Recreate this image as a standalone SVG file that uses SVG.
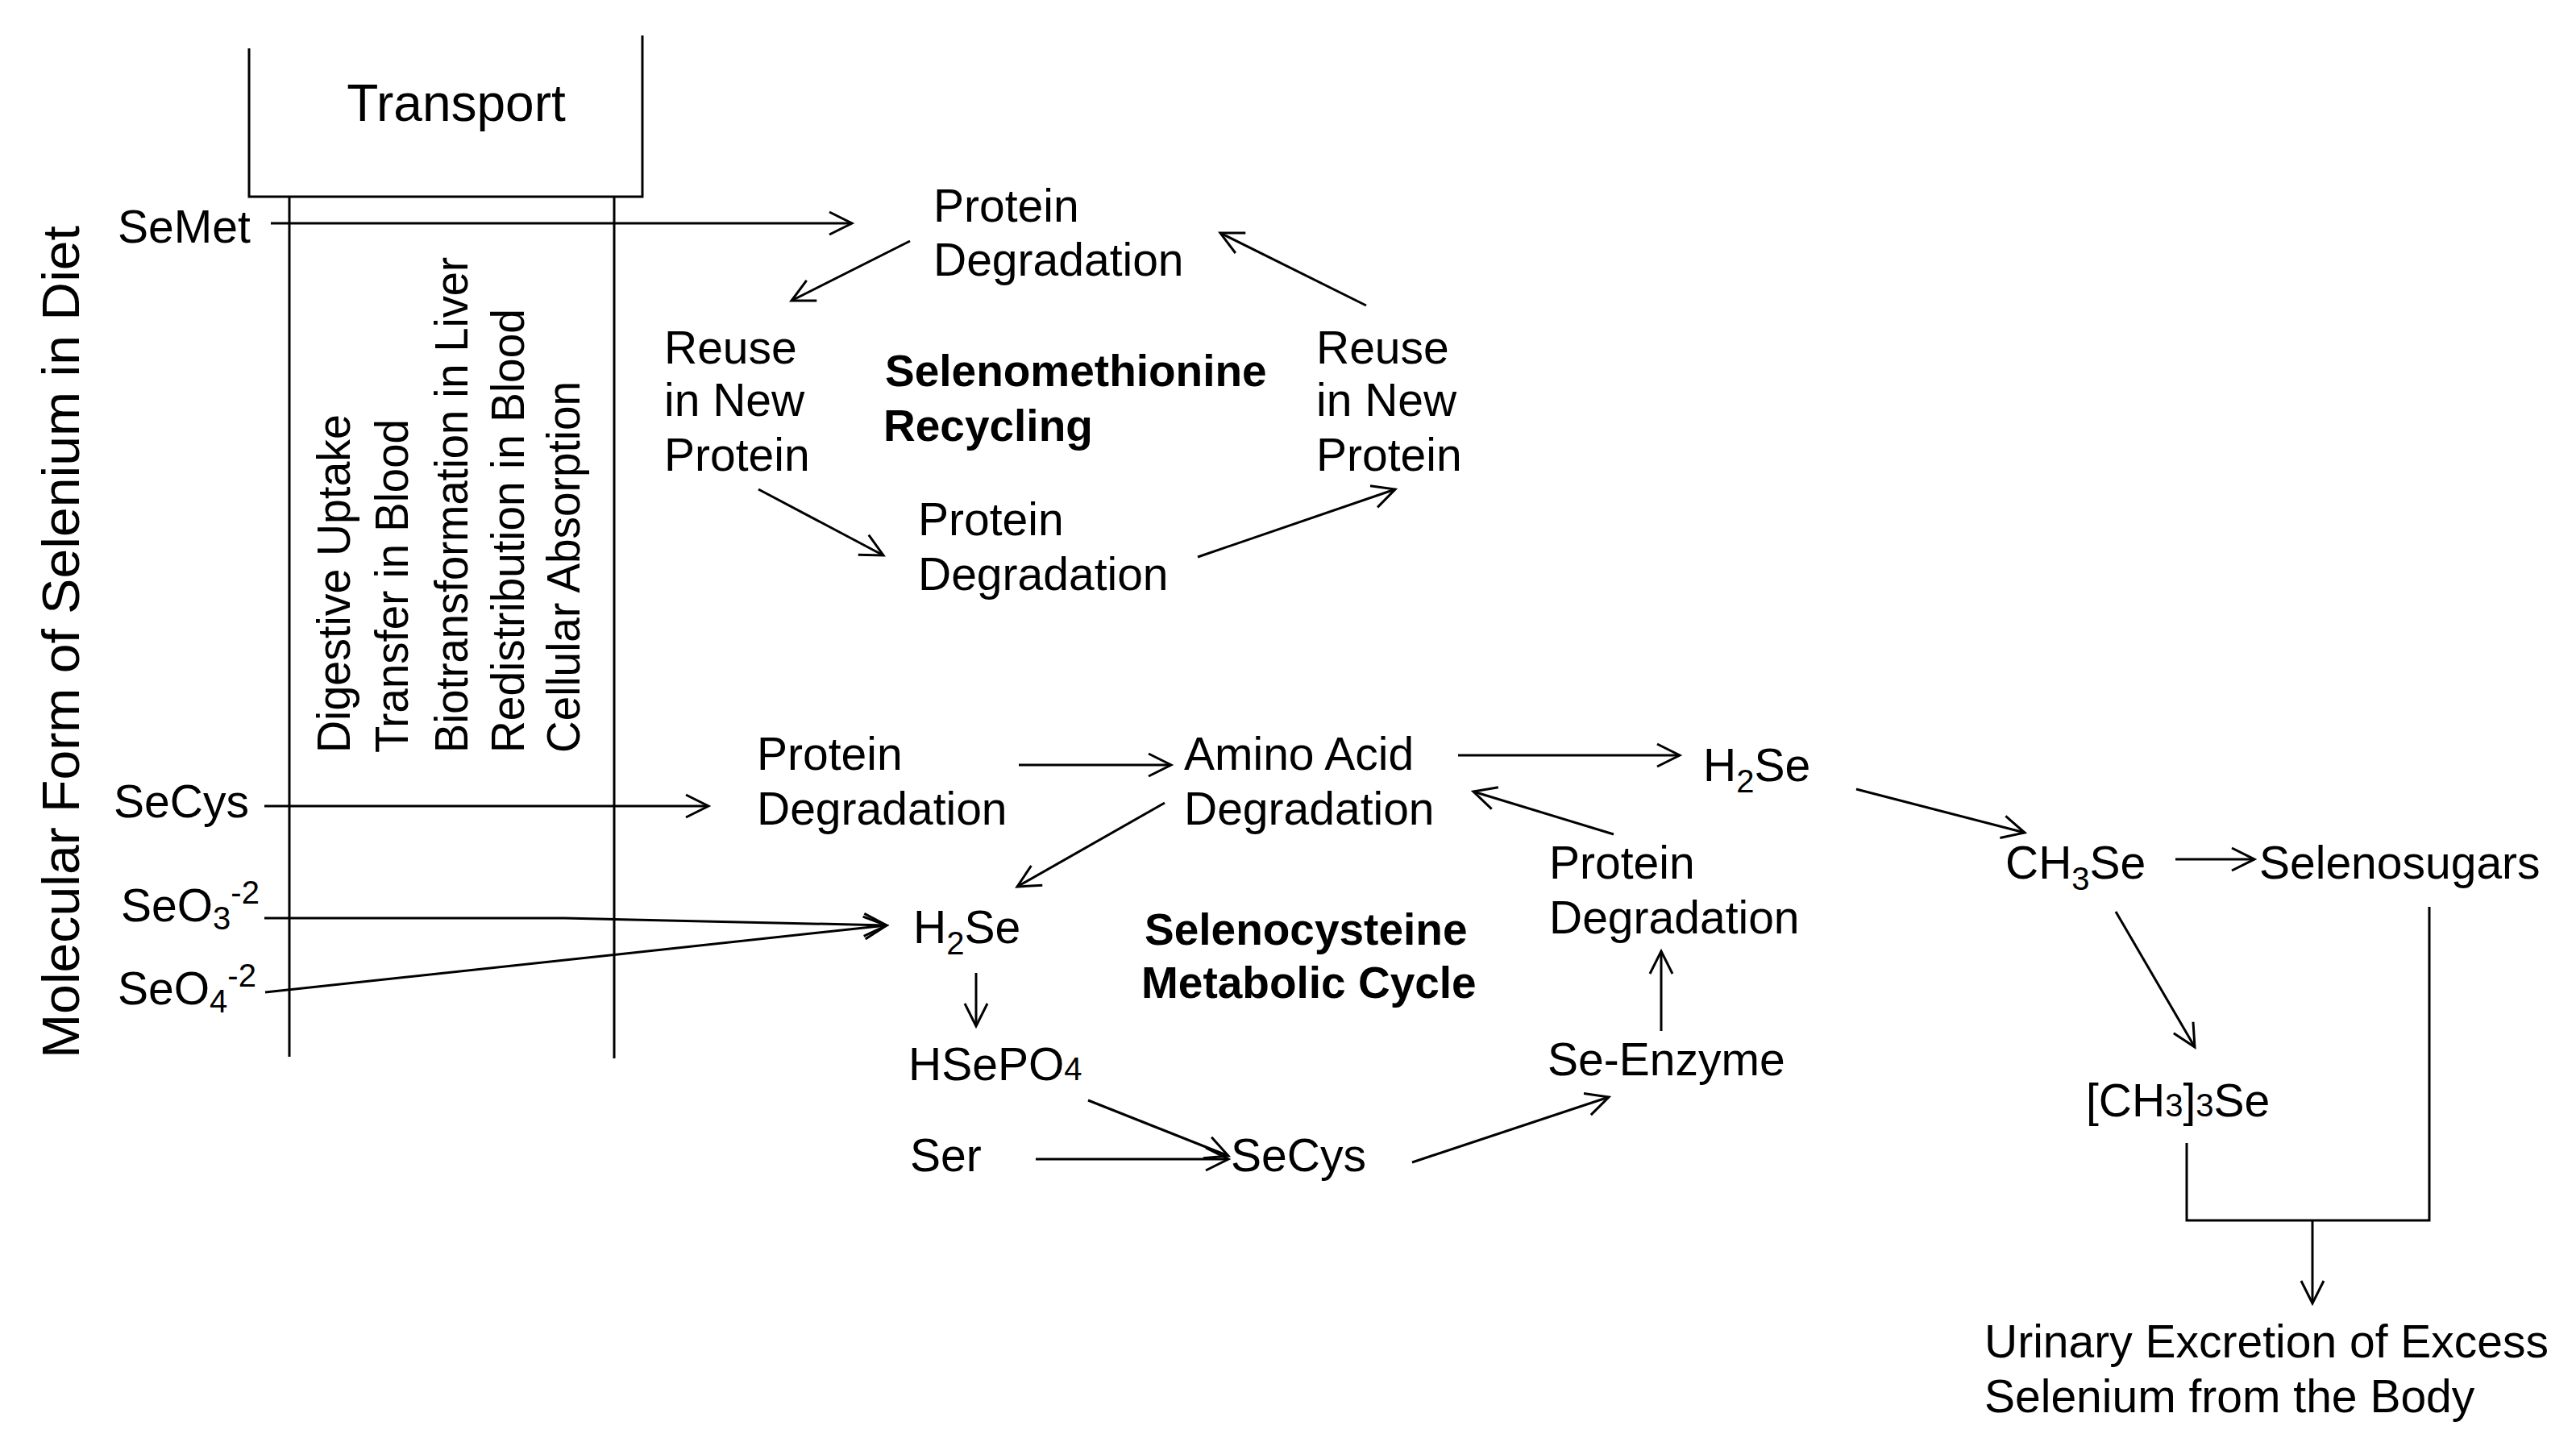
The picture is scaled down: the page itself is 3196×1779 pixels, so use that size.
<svg xmlns="http://www.w3.org/2000/svg" width="3196" height="1779" viewBox="0 0 3196 1779">
<style>
text{font-family:"Liberation Sans",Arial,sans-serif;font-size:57px;fill:#000}
.b{font-weight:bold;font-size:55px}
.ln{stroke:#000;stroke-width:3;fill:none}
.ar{stroke:#000;stroke-width:3;fill:none;marker-end:url(#ah)}
</style>
<defs>
<marker id="ah" markerUnits="userSpaceOnUse" markerWidth="40" markerHeight="40" viewBox="0 0 40 40" refX="34" refY="20" orient="auto">
<path d="M6,6 L34,20 L6,34" fill="none" stroke="#000" stroke-width="3"/>
</marker>
</defs>
<rect width="3196" height="1779" fill="#fff"/>
<g id="transport">
<path class="ln" d="M309,60 V244 H797 V44"/>
<text x="566" y="150" text-anchor="middle" style="font-size:64px">Transport</text>
<line class="ln" x1="359" y1="244" x2="359" y2="1311"/>
<line class="ln" x1="762" y1="244" x2="762" y2="1313"/>
<text transform="translate(434,934) rotate(-90)" textLength="420" lengthAdjust="spacingAndGlyphs">Digestive Uptake</text>
<text transform="translate(506,934) rotate(-90)" textLength="414" lengthAdjust="spacingAndGlyphs">Transfer in Blood</text>
<text transform="translate(580,934) rotate(-90)" textLength="615" lengthAdjust="spacingAndGlyphs">Biotransformation in Liver</text>
<text transform="translate(650,934) rotate(-90)" textLength="551" lengthAdjust="spacingAndGlyphs">Redistribution in Blood</text>
<text transform="translate(719,934) rotate(-90)" textLength="461" lengthAdjust="spacingAndGlyphs">Cellular Absorption</text>
</g>
<g id="title"><text transform="translate(98,1313) rotate(-90)" textLength="1033" lengthAdjust="spacingAndGlyphs" style="font-size:64px">Molecular Form of Selenium in Diet</text></g>
<g id="inputs">
<text x="146" y="301">SeMet</text>
<text x="141" y="1014">SeCys</text>
<text x="150" y="1143">SeO<tspan dy="10" style="font-size:40px">3</tspan><tspan dy="-32" style="font-size:40px">-2</tspan></text>
<text x="146" y="1246">SeO<tspan dy="10" style="font-size:40px">4</tspan><tspan dy="-32" style="font-size:40px">-2</tspan></text>
</g>
<g id="smcycle">
<text x="1158" y="275">Protein</text><text x="1158" y="342">Degradation</text>
<text x="824" y="451">Reuse</text><text x="824" y="516">in New</text><text x="824" y="584">Protein</text>
<text x="1633" y="451">Reuse</text><text x="1633" y="516">in New</text><text x="1633" y="584">Protein</text>
<text class="b" x="1098" y="479">Selenomethionine</text><text class="b" x="1096" y="547">Recycling</text>
<text x="1139" y="664">Protein</text><text x="1139" y="732">Degradation</text>
</g>
<g id="sccycle">
<text x="939" y="955">Protein</text><text x="939" y="1023">Degradation</text>
<text x="1469" y="955">Amino Acid</text><text x="1469" y="1023">Degradation</text>
<text x="2113" y="969">H<tspan dy="14" style="font-size:40px">2</tspan><tspan dy="-14">Se</tspan></text>
<text x="1922" y="1090">Protein</text><text x="1922" y="1158">Degradation</text>
<text x="1133" y="1170">H<tspan dy="14" style="font-size:40px">2</tspan><tspan dy="-14">Se</tspan></text>
<text class="b" x="1420" y="1172">Selenocysteine</text><text class="b" x="1416" y="1238">Metabolic Cycle</text>
<text x="1127" y="1340">HSePO<tspan style="font-size:40px">4</tspan></text>
<text x="1129" y="1453">Ser</text>
<text x="1527" y="1453">SeCys</text>
<text x="1920" y="1334">Se-Enzyme</text>
</g>
<g id="excretion">
<text x="2488" y="1090">CH<tspan dy="14" style="font-size:40px">3</tspan><tspan dy="-14">Se</tspan></text>
<text x="2803" y="1090">Selenosugars</text>
<text x="2588" y="1385">[CH<tspan style="font-size:40px">3</tspan>]<tspan style="font-size:40px">3</tspan>Se</text>
<text x="2462" y="1684">Urinary Excretion of Excess</text>
<text x="2462" y="1752">Selenium from the Body</text>
</g>
<g id="connectors">
<line class="ar" x1="336" y1="277" x2="1057" y2="277"/>
<line class="ar" x1="328" y1="1000" x2="879" y2="1000"/>
<polyline class="ar" points="328,1139 700,1139 1100,1148"/>
<line class="ar" x1="329" y1="1231" x2="1100" y2="1148"/>
<line class="ar" x1="1129" y1="299" x2="982" y2="373"/>
<line class="ar" x1="1695" y1="379" x2="1514" y2="289"/>
<line class="ar" x1="941" y1="607" x2="1096" y2="689"/>
<line class="ar" x1="1486" y1="691" x2="1731" y2="607"/>
<line class="ar" x1="1264" y1="949" x2="1453" y2="949"/>
<line class="ar" x1="1809" y1="937" x2="2084" y2="937"/>
<line class="ar" x1="2303" y1="979" x2="2512" y2="1033"/>
<line class="ar" x1="2699" y1="1066" x2="2797" y2="1066"/>
<line class="ar" x1="2625" y1="1131" x2="2723" y2="1299"/>
<path class="ln" d="M2713,1418 V1514 H3014 V1125"/>
<line class="ar" x1="2869" y1="1514" x2="2869" y2="1617"/>
<line class="ar" x1="1445" y1="996" x2="1262" y2="1100"/>
<line class="ar" x1="2002" y1="1035" x2="1828" y2="982"/>
<line class="ar" x1="1211" y1="1207" x2="1211" y2="1273"/>
<line class="ar" x1="1350" y1="1365" x2="1524" y2="1434"/>
<line class="ar" x1="1285" y1="1438" x2="1524" y2="1438"/>
<line class="ar" x1="1752" y1="1442" x2="1996" y2="1361"/>
<line class="ar" x1="2061" y1="1279" x2="2061" y2="1180"/>
</g>
</svg>
